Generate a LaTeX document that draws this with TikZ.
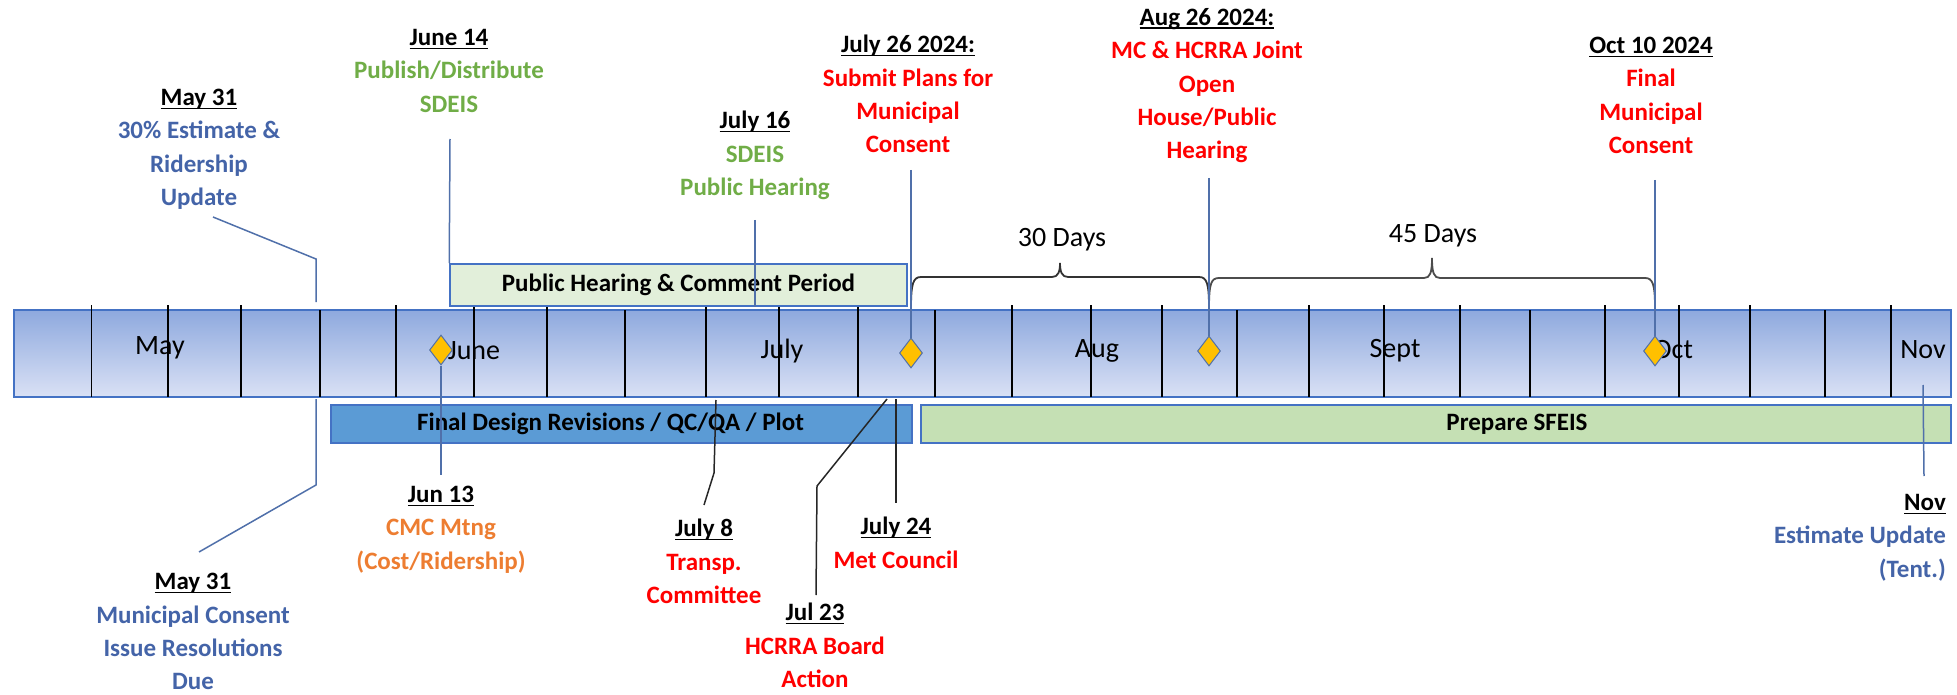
\documentclass[tikz,border=0pt]{standalone}
\usepackage{fontspec}
\setmainfont{Carlito}
\usetikzlibrary{shapes.geometric}

\definecolor{lblblue}{RGB}{68,100,168}
\definecolor{lblgreen}{RGB}{112,173,71}
\definecolor{lblred}{RGB}{255,0,0}
\definecolor{lblorange}{RGB}{237,125,49}
\definecolor{linkblue}{RGB}{80,112,170}
\definecolor{barborder}{RGB}{68,114,196}
\definecolor{bartop}{RGB}{142,169,222}
\definecolor{barbottom}{RGB}{218,225,245}
\definecolor{phcfill}{RGB}{226,239,218}
\definecolor{fdrfill}{RGB}{91,155,213}
\definecolor{psefill}{RGB}{197,224,180}
\definecolor{gold}{RGB}{255,192,0}

\newsavebox{\dtbox}
\newcommand{\dt}[1]{{\color{black}\sbox{\dtbox}{#1}\rlap{\rule[-3.5pt]{\wd\dtbox}{1.4pt}}\usebox{\dtbox}}}

\begin{document}
\begin{tikzpicture}[x = 1pt, y = -1pt]
\tikzstyle{Label}=[anchor = north, align = center, inner sep = 0pt,
                   font = \bfseries\fontsize{25}{33.4}\selectfont,
                   execute at begin node = \strut]
\tikzstyle{Month}=[inner sep = 0pt, font = \fontsize{28}{34}\selectfont]
\tikzstyle{Task}=[draw = barborder, line width = 1.5pt, inner sep = 0pt,
                  font = \bfseries\fontsize{25}{30}\selectfont]
\tikzstyle{Milestone}=[shape = diamond, draw = linkblue, fill = gold, line width = 1pt,
                       minimum width = 23pt, minimum height = 30pt, inner sep = 0pt]
\tikzstyle{Link}=[draw = linkblue, line width = 1.5pt]
\tikzstyle{LinkDark}=[draw = black!85, line width = 1.5pt]
\tikzstyle{Brace}=[draw = black!80, line width = 1.8pt]
\useasboundingbox (0,0) rectangle (1957,695);

\draw[draw = barborder, line width = 2pt, top color = bartop, bottom color = barbottom] (14,310) rectangle (1951,397);
\node[Month] (may) at (160,348) {May};
\node[Month] (june) at (474,351) {June};
\node[Month] (july) at (782,351) {July};
\node[Month] (aug) at (1097,351) {Aug};
\node[Month] (sept) at (1395,351) {Sept};
\node[Month] (oct) at (1673,350) {Oct};
\node[Month] (nov) at (1923,350) {Nov};
\foreach \x in {91.5,168,241,396,474,547,706,779,858,1012,1091,1162,1309,1384,1460,1605,1679,1750,1891}
  \draw[line width = 1.4pt] (\x,305) -- (\x,397);
\foreach \x in {320,625,935,1237,1530,1825}
  \draw[line width = 2.6pt] (\x,310) -- (\x,397);

\node[Task, fill = phcfill, minimum width = 457pt, minimum height = 42pt] (phc) at (678.5,285) {Public Hearing \& Comment Period};
\node[Task, fill = fdrfill, minimum width = 581pt, minimum height = 38pt] (fdr) at (621.5,424) {Final Design Revisions / QC/QA / Plot\hspace*{22pt}};
\node[Task, fill = psefill, minimum width = 1030pt, minimum height = 38pt] (pse) at (1436,424) {\hspace*{162pt}Prepare SFEIS};

\node[Label, text = lblblue] (may31t) at (199,89) {\dt{May 31}\\30\% Estimate \&\\Ridership\\Update};
\node[Label, text = lblgreen] (jun14) at (449,29) {\dt{June 14}\\Publish/Distribute\\SDEIS};
\node[Label, text = lblgreen] (jul16) at (755,111) {\dt{July 16}\\SDEIS\\Public Hearing};
\node[Label, text = lblred] (jul26) at (908,35) {\dt{July 26 2024:}\\Submit Plans for\\Municipal\\Consent};
\node[Label, text = lblred] (aug26) at (1207,8) {\dt{Aug 26 2024:}\\MC \& HCRRA Joint\\Open\\House/Public\\Hearing};
\node[Label, text = lblred] (oct10) at (1651,37) {\dt{Oct 10 2024}\\Final\\Municipal\\Consent};
\node[Label, text = lblblue] (may31b) at (193,573) {\dt{May 31}\\Municipal Consent\\Issue Resolutions\\Due};
\node[Label, text = lblorange] (jun13) at (441,486) {\dt{Jun 13}\\CMC Mtng\\(Cost/Ridership)};
\node[Label, text = lblred] (jul8) at (704,519) {\dt{July 8}\\Transp.\\Committee};
\node[Label, text = lblred] (jul23) at (815,603) {\dt{Jul 23}\\HCRRA Board\\Action};
\node[Label, text = lblred] (jul24) at (896,517) {\dt{July 24}\\Met Council};
\node[Label, text = lblblue, anchor = north east, align = right] (novl) at (1946,494) {\dt{Nov}\\Estimate Update\\(Tent.)};

\node[Brace, draw = none, inner sep = 0pt, font = \fontsize{28}{34}\selectfont] (d30) at (1062,240) {30 Days};
\node[Brace, draw = none, inner sep = 0pt, font = \fontsize{28}{34}\selectfont] (d45) at (1433,236) {45 Days};
\coordinate (b30l) at (911,308);
\coordinate (b30r) at (1209,308);
\coordinate (b45r) at (1655,308);
\draw[Brace] (b30l) .. controls (911,284) and (913,277) .. (921,277) -- (1052,277)
  .. controls (1058,277) and (1060,272) .. (1060,263) .. controls (1060,272) and (1062,277) .. (1068,277)
  -- (1199,277) .. controls (1207,277) and (1209,284) .. (b30r);
\draw[Brace, draw = black!70] (b30r) .. controls (1209,284) and (1211,278) .. (1219,278) -- (1424,278)
  .. controls (1430,278) and (1432,273) .. (1432,258) .. controls (1432,273) and (1434,278) .. (1440,278)
  -- (1645,278) .. controls (1653,278) and (1655,285) .. (b45r);

\coordinate (may31t-a) at (213,217);
\coordinate (may31t-b) at (316,259);
\coordinate (may31t-c) at (316,302);
\coordinate (jun14-a) at (450,139);
\coordinate (jul16-a) at (755,220);
\coordinate (jul26-a) at (911,170);
\coordinate (aug26-a) at (1209,178);
\coordinate (oct10-a) at (1655,180);
\coordinate (may31b-a) at (316,399);
\coordinate (may31b-b) at (316,485);
\coordinate (may31b-c) at (199,552);
\coordinate (jun13-a) at (441,475);
\coordinate (jul8-a) at (716,400);
\coordinate (jul8-b) at (714,473);
\coordinate (jul8-c) at (704,505);
\coordinate (jul23-a) at (887,399);
\coordinate (jul23-b) at (817,486);
\coordinate (jul23-c) at (816,595);
\coordinate (jul24-a) at (896,399);
\coordinate (jul24-b) at (896,503);
\coordinate (nov-a) at (1923,385);
\coordinate (nov-b) at (1924,476);

\node[Milestone] (dJun) at (441,350) {};
\node[Milestone] (dJul) at (911,353) {};
\node[Milestone] (dAug) at (1209,351) {};
\node[Milestone] (dOct) at (1655,351) {};

\draw[Link] (may31t-a) -- (may31t-b) -- (may31t-c);
\draw[Link] (jun14-a) -- (phc.north west);
\draw[Link] (jul16-a) -- (jul16-a |- phc.south);
\draw[Link] (jul26-a) -- (dJul.north);
\draw[Link] (aug26-a) -- (dAug.north);
\draw[Link] (oct10-a) -- (dOct.north);
\draw[Link] (may31b-a) -- (may31b-b) -- (may31b-c);
\draw[Link] (dJun.south) -- (jun13-a);
\draw[LinkDark] (jul8-a) -- (jul8-b) -- (jul8-c);
\draw[LinkDark] (jul23-a) -- (jul23-b) -- (jul23-c);
\draw[LinkDark] (jul24-a) -- (jul24-b);
\draw[Link] (nov-a) -- (nov-b);
\end{tikzpicture}
\end{document}
